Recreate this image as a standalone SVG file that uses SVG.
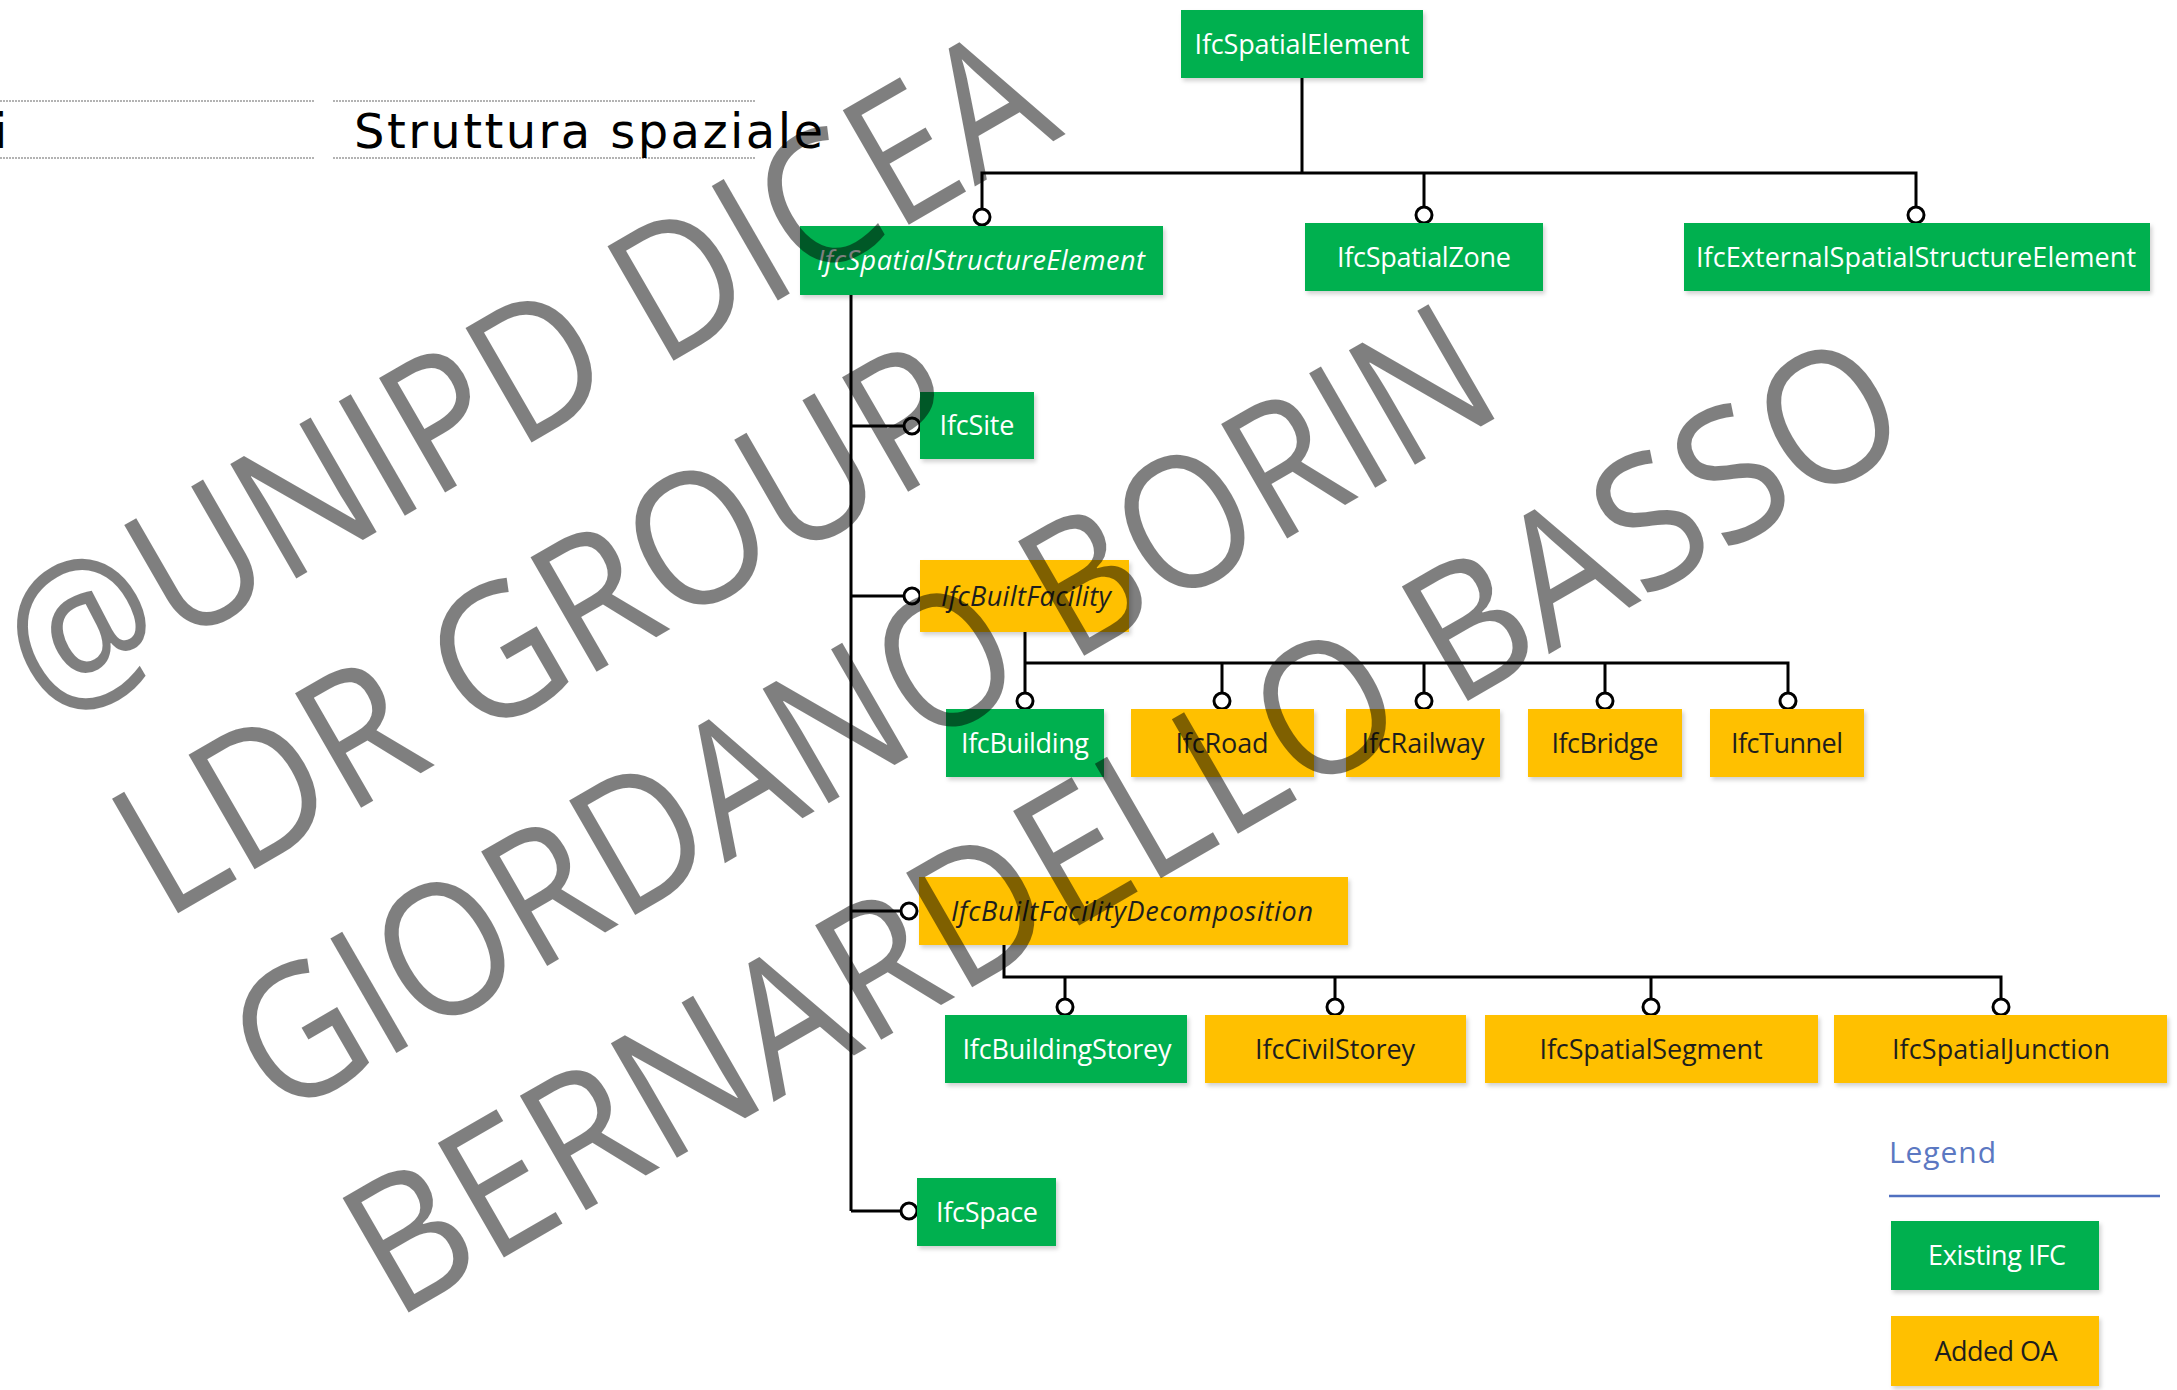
<svg xmlns="http://www.w3.org/2000/svg" width="2177" height="1390" viewBox="0 0 2177 1390">
<defs>
<style>
.g{fill:#00B050}
.y{fill:#FFC000}
.box{filter:url(#sh)}
.tw{font-family:"Open Sans","Noto Sans",sans-serif;font-size:27px;fill:#ffffff;text-anchor:middle}
.tb{font-family:"Open Sans","Noto Sans",sans-serif;font-size:27px;fill:#1e1e1e;text-anchor:middle}
.it{font-style:italic}
.ln{stroke:#000;stroke-width:3;fill:none}
.ci{stroke:#000;stroke-width:3;fill:#fff}
.dot{stroke:#9a9a9a;stroke-width:1.5;stroke-dasharray:2 1}
.wm{font-family:"Open Sans","Noto Sans",sans-serif;font-weight:400;font-size:185px;fill:#000;fill-opacity:0.5}
</style>
<filter id="sh" x="-10%" y="-10%" width="130%" height="140%">
<feDropShadow dx="2" dy="3" stdDeviation="2" flood-color="#000" flood-opacity="0.18"/>
</filter>
</defs>
<rect width="2177" height="1390" fill="#fff"/>

<g id="header">
<line class="dot" x1="0" y1="101" x2="314" y2="101"/>
<line class="dot" x1="333" y1="101" x2="756" y2="101"/>
<line class="dot" x1="0" y1="158" x2="314" y2="158"/>
<line class="dot" x1="333" y1="158" x2="756" y2="158"/>
<text x="-6" y="148" font-family="DejaVu Sans, sans-serif" font-size="48" fill="#000">i</text>
<text x="354" y="148" font-family="DejaVu Sans, sans-serif" font-size="48" fill="#000" textLength="469">Struttura spaziale</text>
</g>

<g id="connectors">
<path class="ln" d="M1302 78V173M982 209V173H1916V207M1424 173V207"/>
<path class="ln" d="M851 295V1211M851 426H904M851 596H904M851 911H901M851 1211H901"/>
<path class="ln" d="M1025 632V693M1025 663H1788V693M1222 663V693M1424 663V693M1605 663V693"/>
<path class="ln" d="M1004 945V977H2001V999M1065 977V999M1335 977V999M1651 977V999"/>
<circle class="ci" cx="982" cy="217" r="8"/>
<circle class="ci" cx="1424" cy="215" r="8"/>
<circle class="ci" cx="1916" cy="215" r="8"/>
<circle class="ci" cx="912" cy="426" r="8"/>
<circle class="ci" cx="912" cy="596" r="8"/>
<circle class="ci" cx="1025" cy="701" r="8"/>
<circle class="ci" cx="1222" cy="701" r="8"/>
<circle class="ci" cx="1424" cy="701" r="8"/>
<circle class="ci" cx="1605" cy="701" r="8"/>
<circle class="ci" cx="1788" cy="701" r="8"/>
<circle class="ci" cx="909" cy="911" r="8"/>
<circle class="ci" cx="1065" cy="1007" r="8"/>
<circle class="ci" cx="1335" cy="1007" r="8"/>
<circle class="ci" cx="1651" cy="1007" r="8"/>
<circle class="ci" cx="2001" cy="1007" r="8"/>
<circle class="ci" cx="909" cy="1211" r="8"/>
</g>

<g id="IfcSpatialElement"><rect class="g box" x="1181" y="10" width="242" height="68"/><text class="tw" x="1302" y="53.5" textLength="215">IfcSpatialElement</text></g>
<g id="IfcSpatialStructureElement"><rect class="g box" x="800" y="226" width="363" height="69"/><text class="tw it" x="981" y="270" textLength="328">IfcSpatialStructureElement</text></g>
<g id="IfcSpatialZone"><rect class="g box" x="1305" y="223" width="238" height="68"/><text class="tw" x="1424" y="266.5" textLength="174">IfcSpatialZone</text></g>
<g id="IfcExternalSpatialStructureElement"><rect class="g box" x="1684" y="223" width="466" height="68"/><text class="tw" x="1916" y="266.5" textLength="440">IfcExternalSpatialStructureElement</text></g>
<g id="IfcSite"><rect class="g box" x="920" y="392" width="114" height="67"/><text class="tw" x="977" y="435" textLength="75">IfcSite</text></g>
<g id="IfcBuiltFacility"><rect class="y box" x="920" y="560" width="209" height="72"/><text class="tb it" x="1026" y="605.5" textLength="170">IfcBuiltFacility</text></g>
<g id="IfcBuilding"><rect class="g box" x="946" y="709" width="158" height="68"/><text class="tw" x="1025" y="752.5" textLength="128">IfcBuilding</text></g>
<g id="IfcRoad"><rect class="y box" x="1131" y="709" width="183" height="68"/><text class="tb" x="1222" y="752.5" textLength="93">IfcRoad</text></g>
<g id="IfcRailway"><rect class="y box" x="1346" y="709" width="154" height="68"/><text class="tb" x="1423" y="752.5" textLength="123">IfcRailway</text></g>
<g id="IfcBridge"><rect class="y box" x="1528" y="709" width="154" height="68"/><text class="tb" x="1605" y="752.5" textLength="107">IfcBridge</text></g>
<g id="IfcTunnel"><rect class="y box" x="1710" y="709" width="154" height="68"/><text class="tb" x="1787" y="752.5" textLength="112">IfcTunnel</text></g>
<g id="IfcBuiltFacilityDecomposition"><rect class="y box" x="919" y="877" width="429" height="68"/><text class="tb it" x="1132" y="920.5" textLength="362">IfcBuiltFacilityDecomposition</text></g>
<g id="IfcBuildingStorey"><rect class="g box" x="945" y="1015" width="242" height="68"/><text class="tw" x="1067" y="1058.5" textLength="209">IfcBuildingStorey</text></g>
<g id="IfcCivilStorey"><rect class="y box" x="1205" y="1015" width="261" height="68"/><text class="tb" x="1335" y="1058.5" textLength="160">IfcCivilStorey</text></g>
<g id="IfcSpatialSegment"><rect class="y box" x="1485" y="1015" width="333" height="68"/><text class="tb" x="1651" y="1058.5" textLength="223">IfcSpatialSegment</text></g>
<g id="IfcSpatialJunction"><rect class="y box" x="1834" y="1015" width="333" height="68"/><text class="tb" x="2001" y="1058.5" textLength="218">IfcSpatialJunction</text></g>
<g id="IfcSpace"><rect class="g box" x="917" y="1178" width="139" height="68"/><text class="tw" x="987" y="1221.5" textLength="102">IfcSpace</text></g>

<g id="legend">
<text x="1889" y="1163" font-family="Open Sans, Noto Sans, sans-serif" font-size="30" fill="#5b78c2" textLength="107">Legend</text>
<line x1="1889" y1="1196" x2="2160" y2="1196" stroke="#5070c0" stroke-width="2.5"/>
<g id="legend-existing"><rect class="g box" x="1891" y="1221" width="208" height="69"/><text class="tw" x="1997" y="1265" textLength="138">Existing IFC</text></g>
<g id="legend-added"><rect class="y box" x="1891" y="1316" width="208" height="70"/><text class="tb" x="1996" y="1360.5" textLength="123">Added OA</text></g>
</g>

<g id="watermark" transform="rotate(-30)">
<text class="wm" x="-319" y="649" textLength="1175" lengthAdjust="spacingAndGlyphs">@UNIPD DICEA</text>
<text class="wm" x="-319" y="880" textLength="945" lengthAdjust="spacingAndGlyphs">LDR GROUP</text>
<text class="wm" x="-319" y="1110" textLength="1420" lengthAdjust="spacingAndGlyphs">GIORDANO BORIN</text>
<text class="wm" x="-319" y="1341" textLength="1760" lengthAdjust="spacingAndGlyphs">BERNARDELLO BASSO</text>
</g>
</svg>
